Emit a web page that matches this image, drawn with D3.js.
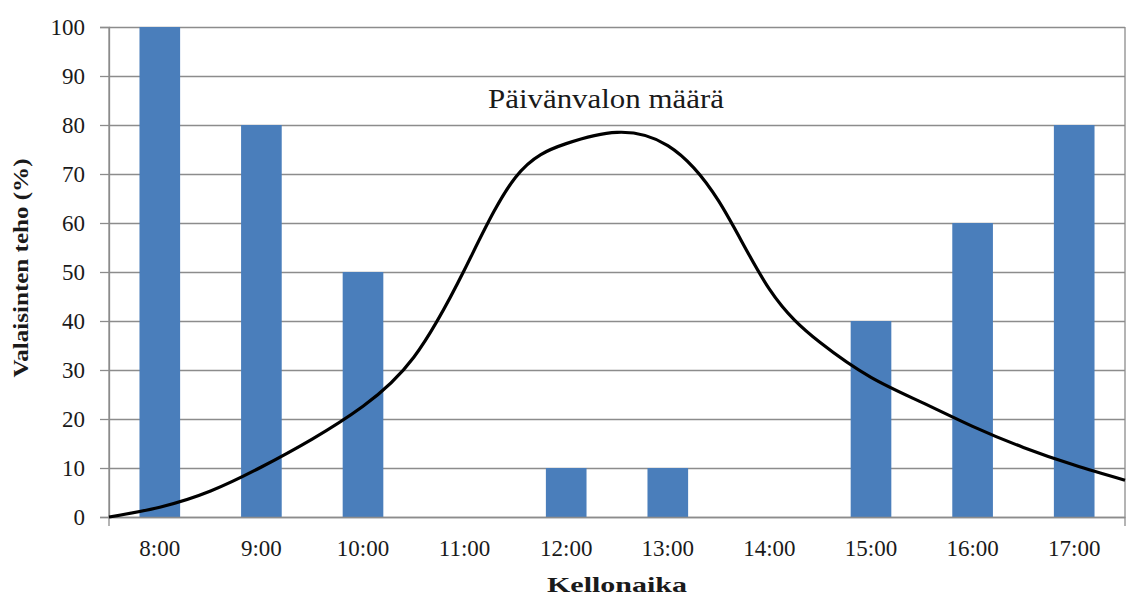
<!DOCTYPE html>
<html>
<head>
<meta charset="utf-8">
<script src="https://cdn.jsdelivr.net/npm/d3@7"></script>
<style>
  body { margin: 0; background: #fff; }
  svg { display: block; }
  text { font-family: "Liberation Serif", "Times New Roman", serif; fill: #1a1a1a; }
</style>
</head>
<body>
<script>
// bars: valaisinten teho
var hours = ["8:00","9:00","10:00","11:00","12:00","13:00","14:00","15:00","16:00","17:00"];
var power = [100, 80, 50, 0, 10, 10, 0, 40, 60, 80];

// curve: päivänvalon määrä (hours as decimals)
var lightTimes = [7.5, 8, 8.5, 9, 9.5, 10, 10.5, 11, 11.5, 12, 12.5, 13, 13.5, 14, 14.5, 15, 15.5, 16, 16.5, 17, 17.5];
var lightValues = [0, 2, 5.3, 10.2, 15.9, 22.6, 32.6, 50.5, 69.3, 76.2, 78.5, 75.8, 64.5, 46.5, 35.6, 28.5, 23.4, 18.5, 14.2, 10.6, 7.5];

var yTicks = [0,10,20,30,40,50,60,70,80,90,100];

var width = 1128, height = 596;
var plotLeft = 109, plotRight = 1125, plotTop = 27, plotBottom = 517;
var serif = "'Liberation Serif', 'Times New Roman', serif";

var svg = d3.select("body").append("svg")
    .attr("width", width)
    .attr("height", height);

var x = d3.scaleBand()
    .domain(hours)
    .range([plotLeft, plotRight])
    .paddingInner(0.6)
    .paddingOuter(0.3);

var xLin = d3.scaleLinear()
    .domain([7.5, 17.5])
    .range([plotLeft, plotRight]);

var y = d3.scaleLinear()
    .domain([0, 100])
    .range([plotBottom, plotTop]);

// gridlines
svg.append("g")
    .attr("class", "grid")
    .attr("transform", "translate(" + plotLeft + ",0)")
    .call(d3.axisLeft(y).tickValues(yTicks).tickSize(-(plotRight - plotLeft)).tickFormat(""))
    .call(function(g) { g.select(".domain").remove(); })
    .selectAll("line")
    .attr("stroke", "#8c8c8c")
    .attr("stroke-width", 1.3);

// bars
svg.append("g")
    .selectAll("rect")
    .data(power)
    .enter()
    .append("rect")
    .attr("x", function(d, i) { return x(hours[i]); })
    .attr("y", function(d) { return y(d); })
    .attr("width", x.bandwidth())
    .attr("height", function(d) { return y(0) - y(d); })
    .attr("fill", "#4a7ebb");

// y axis
var yAxis = svg.append("g")
    .attr("transform", "translate(" + plotLeft + ",0)")
    .call(d3.axisLeft(y).tickValues(yTicks).tickSize(9).tickPadding(15));
yAxis.select(".domain").attr("stroke", "#8c8c8c").attr("stroke-width", 1.3);
yAxis.selectAll("line").attr("stroke", "#8c8c8c").attr("stroke-width", 1.3);
yAxis.selectAll("text")
    .style("font-family", serif)
    .style("font-size", "23px")
    .attr("fill", "#1a1a1a");

// x axis
var xAxis = svg.append("g")
    .attr("transform", "translate(0," + plotBottom + ")")
    .call(d3.axisBottom(x).tickSize(0).tickPadding(23));
xAxis.select(".domain").attr("stroke", "#8c8c8c").attr("stroke-width", 1.3);
xAxis.selectAll("text")
    .style("font-family", serif)
    .style("font-size", "23px")
    .attr("fill", "#1a1a1a");

// frame edges below axis
svg.append("g")
    .selectAll("line")
    .data([plotLeft, plotRight])
    .enter()
    .append("line")
    .attr("x1", function(d) { return d; })
    .attr("x2", function(d) { return d; })
    .attr("y1", y(100))
    .attr("y2", y(0) + 9)
    .attr("stroke", "#8c8c8c")
    .attr("stroke-width", 1.3);

// daylight curve
var lightData = lightTimes.map(function(t, i) { return {t: t, v: lightValues[i]}; });
svg.append("path")
    .datum(lightData)
    .attr("d", d3.line()
        .x(function(d) { return xLin(d.t); })
        .y(function(d) { return y(d.v); })
        .curve(d3.curveNatural))
    .attr("fill", "none")
    .attr("stroke", "#000")
    .attr("stroke-width", 3.2);

// curve label
svg.append("text")
    .attr("x", 606)
    .attr("y", 108)
    .attr("text-anchor", "middle")
    .attr("textLength", 236)
    .attr("lengthAdjust", "spacingAndGlyphs")
    .style("font-family", serif)
    .style("font-size", "27px")
    .text("Päivänvalon määrä");

// axis titles
svg.append("text")
    .attr("x", 617)
    .attr("y", 592)
    .attr("text-anchor", "middle")
    .attr("textLength", 140)
    .attr("lengthAdjust", "spacingAndGlyphs")
    .style("font-family", serif)
    .style("font-size", "22px")
    .style("font-weight", "bold")
    .text("Kellonaika");

svg.append("text")
    .attr("transform", "translate(28,268) rotate(-90)")
    .attr("text-anchor", "middle")
    .attr("textLength", 219)
    .attr("lengthAdjust", "spacingAndGlyphs")
    .style("font-family", serif)
    .style("font-size", "21px")
    .style("font-weight", "bold")
    .text("Valaisinten teho (%)");
</script>
</body>
</html>
